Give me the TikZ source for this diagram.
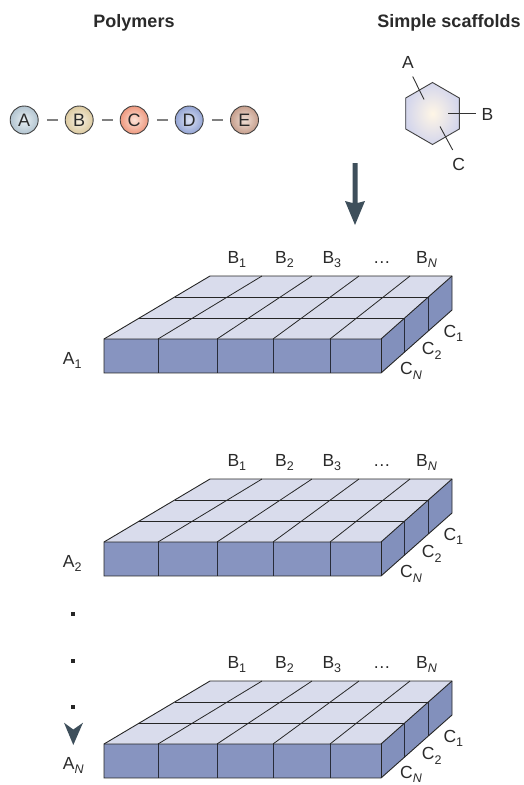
\documentclass[tikz,border=0pt]{standalone}
\usepackage{fontspec}
\setmainfont{Liberation Sans}
\usetikzlibrary{calc}
\definecolor{topc}{HTML}{D9DCEC}
\definecolor{frontc}{HTML}{8794C0}
\definecolor{sidec}{HTML}{8290BC}
\definecolor{arrc}{HTML}{3E4F5B}
\definecolor{txt}{HTML}{2A2A2A}
\definecolor{aIn}{HTML}{E8F0F4}\definecolor{aOut}{HTML}{B2C4D0}
\definecolor{bIn}{HTML}{F8F1E2}\definecolor{bOut}{HTML}{DCCAA0}
\definecolor{cIn}{HTML}{FDE4D8}\definecolor{cOut}{HTML}{EE987E}
\definecolor{dIn}{HTML}{DCE2F4}\definecolor{dOut}{HTML}{93A4D4}
\definecolor{eIn}{HTML}{F0E0D6}\definecolor{eOut}{HTML}{C69E8C}
\definecolor{hIn}{HTML}{FFF6E6}\definecolor{hOut}{HTML}{D4D6EC}
\newcommand{\lbl}{\fontsize{17.5}{17.5}\selectfont}
\newcommand{\mysub}[1]{\raisebox{-0.26em}{\fontsize{12.5}{12.5}\selectfont #1}}
\newcommand{\drawslab}[4]{%
\begin{scope}[shift={(0,#1)}]
 \fill[topc] (210,276) -- (452,276) -- (381,339) -- (104,339) -- cycle;
 \fill[frontc] (104,339) rectangle (381,373);
 \fill[sidec] (381,339) -- (452,276) -- (452,310) -- (381,373) -- cycle;
 \foreach \bx/\fx in {262/158,312/217,359/273,410/330} \draw[gridl] (\bx,276) -- (\fx,339);
 \draw[gridl] (174.7,297) -- (428.3,297);
 \draw[gridl] (139.3,318) -- (404.7,318);
 \foreach \fx in {158,217,273,330} \draw[divl] (\fx,339) -- (\fx,373);
 \draw[divl] (428.3,297) -- (428.3,331);
 \draw[divl] (404.7,318) -- (404.7,352);
 \draw[outl] (104,339) -- (104,373) -- (381,373) -- (452,310) -- (452,276) -- (210,276) -- cycle;
 \draw[outl] (104,339) -- (381,339) -- (452,276);
 \draw[outl] (381,339) -- (381,373);
 \node[lab] (b1#2) at (227.3,263.3) {B\mysub{1}};
 \node[lab] (b2#2) at (275,263.3) {B\mysub{2}};
 \node[lab] (b3#2) at (322.3,263.3) {B\mysub{3}};
 \node[lab] (bd#2) at (373,263.3) {…};
 \node[lab] (bn#2) at (416,263.3) {B\mysub{\itshape N}};
 \node[lab] (c1#2) at (443.3,337) {C\mysub{1}};
 \node[lab] (c2#2) at (421.7,354.5) {C\mysub{2}};
 \node[lab] (cn#2) at (400,#4) {C\mysub{\itshape N}};
 \node[lab] (a#2) at (62.7,364) {A\mysub{#3}};
\end{scope}}
\tikzset{
 gridl/.style={draw=black!85, line width=0.8pt},
 divl/.style={draw=black!70!frontc, line width=1pt},
 outl/.style={draw=black!85, line width=0.9pt},
 lab/.style={anchor=base west, inner sep=0pt, text=txt, font=\lbl},
 ttl/.style={anchor=base, inner sep=0pt, text=txt, font=\fontsize{18}{18}\selectfont\bfseries},
 bead/.style={circle, draw=black!75, line width=0.9pt, minimum size=28pt, inner sep=0pt, font=\fontsize{18}{18}\selectfont, text=txt},
 link/.style={draw=black!50, line width=1.8pt},
}
\begin{document}
\begin{tikzpicture}[x=1pt,y=-1pt]
\useasboundingbox (0,0) rectangle (523,785);
% titles
\node[ttl] (tpoly) at (134,27.7) {Polymers};
\node[ttl] (tscaf) at (449,27.7) {Simple scaffolds};
% polymer beads
\node[bead, inner color=aIn, outer color=aOut] (pa) at (24.2,120) {A};
\node[bead, inner color=bIn, outer color=bOut] (pb) at (79.2,120) {B};
\node[bead, inner color=cIn, outer color=cOut] (pc) at (134.2,120) {C};
\node[bead, inner color=dIn, outer color=dOut] (pd) at (189.2,120) {D};
\node[bead, inner color=eIn, outer color=eOut] (pe) at (244.5,120) {E};
\foreach \u/\v in {pa/pb,pb/pc,pc/pd,pd/pe}
 \draw[link] ($(\u.east)+(8.3,0)$) -- ($(\v.west)+(-6.7,0)$);
% hexagon scaffold
\shade[inner color=hIn, outer color=hOut, draw=black!75, line width=0.9pt]
 (432.5,82.5) -- (459.3,98) -- (459.3,129) -- (432.5,144.5) -- (405.7,129) -- (405.7,98) -- cycle;
\coordinate (ha) at (424,99.5);
\coordinate (hb) at (448,113);
\coordinate (hc) at (440,126.5);
\node[lab, anchor=base] (la) at (408,68.5) {A};
\node[lab, anchor=base] (lb) at (487.5,120) {B};
\node[lab, anchor=base] (lc) at (458.8,170.7) {C};
\draw[black!80, line width=0.9pt] (412.7,76.5) -- (ha);
\draw[black!80, line width=0.9pt] (hb) -- (476,113);
\draw[black!80, line width=0.9pt] (hc) -- (452.7,150);
% main arrow
\fill[arrc] (352.5,163) -- (357.5,163) -- (357.5,203) -- (365,201) -- (355,225) -- (345,201) -- (352.5,203) -- cycle;
% slabs
\drawslab{0}{x}{1}{374.5}
\drawslab{203}{y}{2}{374.5}
\drawslab{405}{z}{\itshape N}{373}
% dots and small arrow
\foreach \yy in {614,661,707} \fill[black!85] (71.3,\yy-2) rectangle (75.3,\yy+2);
\fill[arrc] (64,722.7) -- (73.3,729.5) -- (83,722.7) -- (73.3,745) -- cycle;
\end{tikzpicture}
\end{document}
